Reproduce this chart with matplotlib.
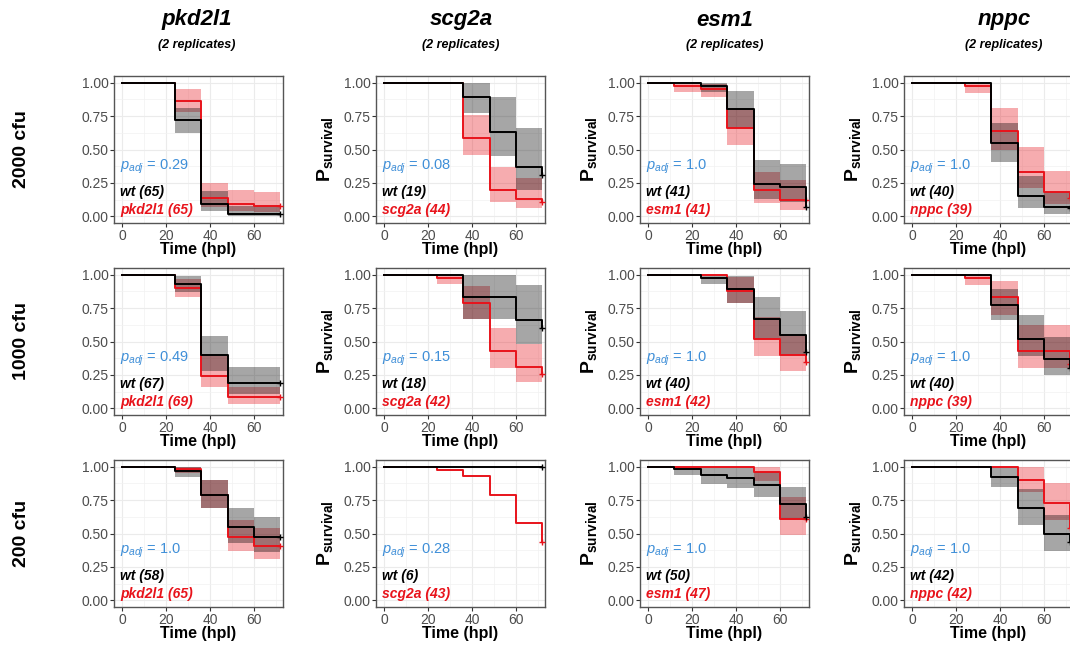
import numpy as np
import matplotlib
matplotlib.use("Agg")
import matplotlib.pyplot as plt

plt.rcParams['font.family'] = ['Liberation Sans', 'DejaVu Sans']
plt.rcParams['mathtext.fontset'] = 'custom'
plt.rcParams['mathtext.rm'] = 'Liberation Sans'
plt.rcParams['mathtext.it'] = 'Liberation Sans:italic'
plt.rcParams['mathtext.bf'] = 'Liberation Sans:bold'

nan = np.nan

# time points (hpl) where the KM curves can step
times = [0, 12, 24, 36, 48, 60, 72]

genes = ['pkd2l1', 'scg2a', 'esm1', 'nppc']
doses = ['2000 cfu', '1000 cfu', '200 cfu']

p_adj = [['0.29', '0.08', '1.0', '1.0'],
         ['0.49', '0.15', '1.0', '1.0'],
         ['1.0', '0.28', '1.0', '1.0']]
n_wt = [[65, 19, 41, 40],
        [67, 18, 40, 40],
        [58, 6, 50, 42]]
n_mut = [[65, 44, 41, 39],
         [69, 42, 42, 39],
         [65, 43, 47, 42]]

# survival per interval [t_i, t_i+1) plus value at the end (72 hpl)
wt_surv = [
    [[1, 1, 0.72, 0.09, 0.015, 0.015, 0.015],
     [1, 1, 1, 0.89, 0.63, 0.37, 0.31],
     [1, 1, 0.975, 0.805, 0.24, 0.22, 0.07],
     [1, 1, 1, 0.55, 0.15, 0.07, 0.06]],
    [[1, 1, 0.93, 0.40, 0.19, 0.19, 0.19],
     [1, 1, 1, 0.83, 0.83, 0.66, 0.60],
     [1, 1, 0.975, 0.89, 0.67, 0.55, 0.42],
     [1, 1, 1, 0.77, 0.52, 0.37, 0.30]],
    [[1, 1, 0.965, 0.79, 0.55, 0.475, 0.475],
     [1, 1, 1, 1, 1, 1, 1],
     [1, 0.98, 0.94, 0.915, 0.86, 0.72, 0.62],
     [1, 1, 1, 0.925, 0.69, 0.495, 0.44]],
]
wt_lo = [
    [[nan, nan, 0.62, 0.04, 0.002, 0.002],
     [nan, nan, nan, 0.775, 0.45, 0.20],
     [nan, nan, 0.93, 0.66, 0.13, 0.11],
     [nan, nan, nan, 0.41, 0.06, 0.02]],
    [[nan, nan, 0.87, 0.28, 0.11, 0.11],
     [nan, nan, nan, 0.67, 0.67, 0.48],
     [nan, nan, 0.93, 0.79, 0.52, 0.40],
     [nan, nan, nan, 0.66, 0.39, 0.25]],
    [[nan, nan, 0.92, 0.69, 0.43, 0.36],
     [nan, nan, nan, nan, nan, nan],
     [nan, 0.94, 0.87, 0.84, 0.77, 0.60],
     [nan, nan, nan, 0.85, 0.56, 0.37]],
]
wt_hi = [
    [[nan, nan, 0.81, 0.19, 0.08, 0.08],
     [nan, nan, nan, 1.0, 0.89, 0.66],
     [nan, nan, 1.0, 0.94, 0.42, 0.39],
     [nan, nan, nan, 0.70, 0.30, 0.18]],
    [[nan, nan, 0.99, 0.54, 0.31, 0.31],
     [nan, nan, nan, 1.0, 1.0, 0.92],
     [nan, nan, 1.0, 0.99, 0.835, 0.73],
     [nan, nan, nan, 0.89, 0.70, 0.53]],
    [[nan, nan, 1.0, 0.90, 0.69, 0.62],
     [nan, nan, nan, nan, nan, nan],
     [nan, 1.0, 1.0, 1.0, 0.96, 0.85],
     [nan, nan, nan, 1.0, 0.83, 0.64]],
]

mut_surv = [
    [[1, 1, 0.86, 0.14, 0.095, 0.075, 0.075],
     [1, 1, 1, 0.585, 0.20, 0.13, 0.11],
     [1, 0.975, 0.95, 0.66, 0.195, 0.12, 0.12],
     [1, 1, 0.975, 0.64, 0.33, 0.18, 0.14]],
    [[1, 1, 0.90, 0.245, 0.085, 0.085, 0.085],
     [1, 1, 0.975, 0.785, 0.43, 0.31, 0.26],
     [1, 1, 1, 0.88, 0.52, 0.40, 0.35],
     [1, 1, 0.975, 0.835, 0.43, 0.43, 0.33]],
    [[1, 1, 0.985, 0.79, 0.475, 0.41, 0.41],
     [1, 1, 0.975, 0.93, 0.79, 0.58, 0.44],
     [1, 1, 1, 1, 0.96, 0.61, 0.61],
     [1, 1, 1, 1, 0.90, 0.73, 0.54]],
]
mut_lo = [
    [[nan, nan, 0.78, 0.07, 0.04, 0.03],
     [nan, nan, nan, 0.46, 0.11, 0.06],
     [nan, 0.93, 0.89, 0.53, 0.10, 0.05],
     [nan, nan, 0.92, 0.50, 0.21, 0.09]],
    [[nan, nan, 0.83, 0.16, 0.03, 0.03],
     [nan, nan, 0.93, 0.67, 0.30, 0.20],
     [nan, nan, nan, 0.79, 0.39, 0.28],
     [nan, nan, 0.92, 0.70, 0.30, 0.30]],
    [[nan, nan, 0.95, 0.69, 0.37, 0.31],
     [nan, nan, nan, nan, nan, nan],
     [nan, nan, nan, nan, 0.89, 0.49],
     [nan, nan, nan, nan, 0.81, 0.60]],
]
mut_hi = [
    [[nan, nan, 0.95, 0.25, 0.20, 0.18],
     [nan, nan, nan, 0.76, 0.37, 0.29],
     [nan, 1.0, 0.99, 0.80, 0.33, 0.27],
     [nan, nan, 1.0, 0.81, 0.52, 0.34]],
    [[nan, nan, 0.97, 0.39, 0.16, 0.16],
     [nan, nan, 1.0, 0.915, 0.60, 0.48],
     [nan, nan, nan, 0.98, 0.68, 0.55],
     [nan, nan, 1.0, 0.95, 0.62, 0.62]],
    [[nan, nan, 1.0, 0.90, 0.60, 0.54],
     [nan, nan, nan, nan, nan, nan],
     [nan, nan, nan, nan, 1.0, 0.77],
     [nan, nan, nan, nan, 1.0, 0.88]],
]

RED = '#e8131b'
BLUE = '#3f8fd8'

W, H = 1070, 646
fig = plt.figure(figsize=(W / 100, H / 100), dpi=100)

col_left = [114, 376, 640, 904]
row_top = [76, 268, 460]
aw, ah = 169, 147


def draw_km(ax, surv, lo, hi, color):
    for i in range(len(times) - 1):
        if not np.isnan(lo[i]):
            ax.fill_between([times[i], times[i + 1]], [lo[i], lo[i]], [hi[i], hi[i]],
                            color=color, alpha=0.35, lw=0, zorder=2)


for r in range(3):
    for c in range(4):
        ax = fig.add_axes([col_left[c] / W, 1 - (row_top[r] + ah) / H, aw / W, ah / H])

        # ribbons first, then lines (wt on top)
        draw_km(ax, mut_surv[r][c], mut_lo[r][c], mut_hi[r][c], RED)
        draw_km(ax, wt_surv[r][c], wt_lo[r][c], wt_hi[r][c], 'black')
        ax.step(times, mut_surv[r][c], where='post', color=RED, lw=1.4, zorder=3)
        ax.step(times, wt_surv[r][c], where='post', color='black', lw=1.4, zorder=4)
        ax.plot(72, mut_surv[r][c][-1], '+', color=RED, ms=5, mew=1, zorder=3)
        ax.plot(72, wt_surv[r][c][-1], '+', color='black', ms=5, mew=1, zorder=4)

        ax.set_xlim(-3.6, 73.2)
        ax.set_ylim(-0.05, 1.05)
        ax.set_xticks([0, 20, 40, 60])
        ax.set_yticks([0, 0.25, 0.5, 0.75, 1.0])
        ax.set_yticklabels(['0.00', '0.25', '0.50', '0.75', '1.00'])
        ax.set_xticks([10, 30, 50, 70], minor=True)
        ax.set_yticks([0.125, 0.375, 0.625, 0.875], minor=True)
        ax.grid(True, which='major', color='#ebebeb', lw=0.8, zorder=0)
        ax.grid(True, which='minor', color='#f2f2f2', lw=0.5, zorder=0)
        ax.set_axisbelow(True)
        ax.tick_params(which='major', length=3, width=0.8, color='#333333',
                       labelcolor='#4d4d4d', labelsize=10, pad=1)
        ax.tick_params(which='minor', length=0)
        for s in ax.spines.values():
            s.set_color('#555555')
            s.set_linewidth(1.0)

        ax.set_xlabel('Time (hpl)', fontsize=11.5, fontweight='bold', va='top')
        ax.xaxis.set_label_coords(0.5, -0.13)
        if c > 0:
            ax.set_ylabel(r'$\mathbf{P}_{\mathbf{survival}}$', fontsize=14)
            ax.yaxis.set_label_coords(-41 / aw, 0.5)

        ax.text(-0.8, 0.37, r'$\mathit{p}_{\mathit{adj}}$ = ' + p_adj[r][c],
                color=BLUE, fontsize=10.5, ha='left', va='center', zorder=5)
        ax.text(-0.8, 0.18, 'wt (%d)' % n_wt[r][c], color='black', fontsize=10,
                fontweight='bold', fontstyle='italic', ha='left', va='center', zorder=5)
        ax.text(-0.8, 0.045, '%s (%d)' % (genes[c], n_mut[r][c]), color=RED, fontsize=10,
                fontweight='bold', fontstyle='italic', ha='left', va='center', zorder=5)

# column titles
title_x = [197, 461, 725, 1004]
for c in range(4):
    fig.text(title_x[c] / W, 1 - 20 / H, genes[c], fontsize=16, fontweight='bold',
             fontstyle='italic', ha='center', va='center')
    fig.text(title_x[c] / W, 1 - 45 / H, '(2 replicates)', fontsize=9, fontweight='bold',
             fontstyle='italic', ha='center', va='center')

# row labels
for r in range(3):
    fig.text(22 / W, 1 - (row_top[r] + ah / 2) / H, doses[r], fontsize=14,
             fontweight='bold', rotation=90, ha='center', va='center')

fig.savefig('out.png', dpi=100)
